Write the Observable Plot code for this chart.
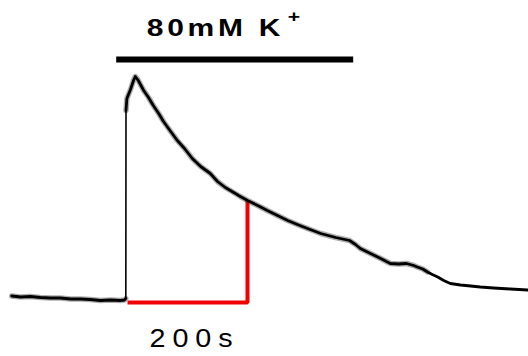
<!DOCTYPE html>
<html>
<head>
<meta charset="utf-8">
<script src="https://cdn.jsdelivr.net/npm/d3@7"></script>
<script src="https://cdn.jsdelivr.net/npm/@observablehq/plot@0.6"></script>
<style>
  body { margin: 0; background: #fff; }
  #chart svg { display: block; }
</style>
</head>
<body>
<div id="chart"></div>
<script>
// Fluorescence trace: time (s) and signal (arbitrary units above baseline)
const time = [2, 17, 33, 50, 67, 83, 100, 117, 133, 150, 167, 183, 190, 192.2, 192.5, 194, 200, 205, 208, 213,
  222, 230, 238, 247, 255, 267, 278, 290, 303, 317, 333, 345, 358, 372, 383, 395, 412, 428, 445, 462,
  478, 495, 517, 542, 565, 575, 583, 600, 617, 633, 647, 660, 672, 678, 687, 695, 703, 712, 722, 733,
  750, 767, 783, 805, 833, 862];
const signal = [4.5, 3.5, 4, 3, 2.5, 2.5, 1.5, 1.5, 1, 0, 0.5, 0, 0.5, 2, 190, 202, 211, 220, 224, 220,
  210, 203, 195, 187, 179, 169, 160, 152, 142, 134, 127, 119, 113, 108, 104, 100, 95, 90, 85, 80,
  76, 72, 67, 63, 60, 56, 52, 47, 42, 37, 36.5, 37, 35, 33.5, 31.5, 28.5, 26, 23.5, 20, 17,
  15.5, 14.5, 13.5, 12.5, 11.5, 10.5];

// Stimulus application (s) and its label
const stimulusOn = [177, 572];
const stimulusLevel = 241;
const stimulusLabel = "80mM K";
const stimulusCharge = "+";

// Scale bar: 200 s horizontally, 100 units vertically
const scaleTime = [195, 395];
const scaleSignal = [-2, 100];
const scaleLabel = "200s";

const trace = time.map((t, i) => ({t, v: signal[i]}));
const scaleBar = [
  {t: scaleTime[0], v: scaleSignal[0]},
  {t: scaleTime[1], v: scaleSignal[0]},
  {t: scaleTime[1], v: scaleSignal[1]}
];
const onset = 192.4; // upstroke between the last resting sample and the first response sample
const phase = d => (d.t < onset ? "rest" : "response");
const noisy = d => (d.t > 700 ? NaN : d.v);
const upstroke = trace.filter(d => Math.abs(d.t - onset) < 0.5);

const chart = Plot.plot({
  width: 528,
  height: 356,
  margin: 0,
  style: {fontFamily: "'Liberation Sans', Arial, sans-serif", background: "#fff"},
  x: {axis: null, domain: [-50 / 3, 2590 / 3]},
  y: {axis: null, domain: [-56, 300]},
  marks: [
    Plot.ruleY([stimulusLevel], {x1: stimulusOn[0], x2: stimulusOn[1], stroke: "black", strokeWidth: 6}),
    Plot.text([stimulusLabel], {
      x: stimulusOn[0], y: stimulusLevel + 24, text: d => d, dx: 30,
      textAnchor: "start", lineAnchor: "bottom", fontSize: 24, fontWeight: "bold",
      fill: "black"
    }),
    Plot.text([stimulusCharge], {
      x: stimulusOn[0], y: stimulusLevel + 37.5, text: d => d, dx: 171,
      textAnchor: "start", lineAnchor: "bottom", fontSize: 17, fontWeight: "bold",
      fill: "black"
    }),
    Plot.line(scaleBar, {x: "t", y: "v", stroke: "#f00000", strokeWidth: 4, strokeLinejoin: "miter", strokeLinecap: "butt"}),
    Plot.text([scaleLabel], {
      x: scaleTime[0], y: scaleSignal[0] - 44, text: d => d, dx: 22,
      textAnchor: "start", lineAnchor: "bottom", fontSize: 25,
      fill: "black"
    }),
    Plot.line(trace, {x: "t", y: noisy, z: phase, stroke: "#333", strokeOpacity: 0.4, strokeWidth: 5.5, strokeLinejoin: "round"}),
    Plot.line(trace, {x: "t", y: "v", z: phase, stroke: "black", strokeWidth: 2.8, strokeLinejoin: "round"}),
    Plot.line(upstroke, {x: "t", y: "v", stroke: "black", strokeWidth: 1.6})
  ]
});

// wide lettering of the annotations
const lettering = {
  [stimulusLabel]: {spacing: 3, stretch: 1.25},
  [stimulusCharge]: {spacing: 0, stretch: 1.25},
  [scaleLabel]: {spacing: 6, stretch: 1.15}
};
d3.select(chart).selectAll("text").each(function () {
  const style = lettering[this.textContent];
  if (!style) return;
  this.setAttribute("letter-spacing", style.spacing);
  const tr = this.getAttribute("transform") || "";
  this.setAttribute("transform", `${tr} scale(${style.stretch},1)`);
});

document.getElementById("chart").appendChild(chart);
</script>
</body>
</html>
